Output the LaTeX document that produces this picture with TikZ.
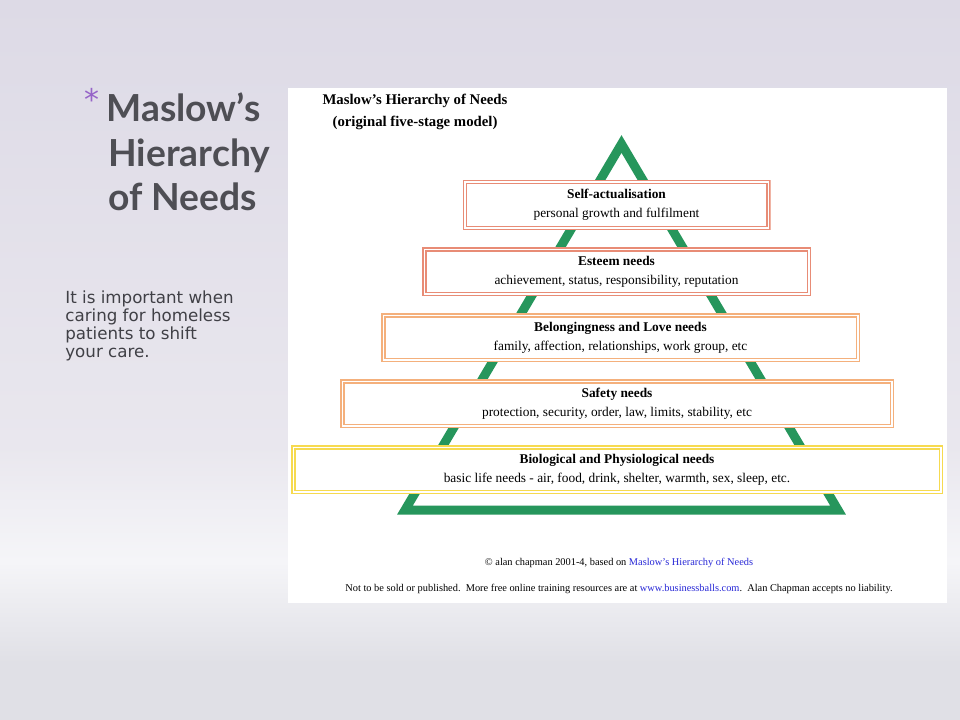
\documentclass[tikz,border=0pt]{standalone}
\usepackage{fontspec}
\setmainfont{Liberation Serif}
\newfontfamily\headfont{Lato}
\newfontfamily\slidefont{DejaVu Sans}
\usepackage{tikz}
\usetikzlibrary{positioning}
\definecolor{bgtop}{RGB}{221,218,230}
\definecolor{bgmid}{RGB}{233,231,238}
\definecolor{bglight}{RGB}{245,245,248}
\definecolor{bgbot}{RGB}{224,224,230}
\definecolor{headgray}{RGB}{78,78,84}
\definecolor{bodygray}{RGB}{64,64,70}
\definecolor{starpurple}{RGB}{150,100,200}
\definecolor{pyrgreen}{RGB}{38,150,92}
\definecolor{boxsalmon}{RGB}{232,140,118}
\definecolor{boxpeach}{RGB}{244,176,124}
\definecolor{boxbutter}{RGB}{246,218,80}
\definecolor{linkblue}{RGB}{40,40,215}
\pgfdeclareverticalshading{slidebg}{100bp}{color(0bp)=(bgbot); color(25bp)=(bgbot); color(29bp)=(bgbot); color(36bp)=(bglight); color(44bp)=(bgmid); color(75bp)=(bgtop); color(100bp)=(bgtop)}

\begin{document}
\begin{tikzpicture}[x=0.2mm,y=-0.2mm,
    needbox/.style n args={3}{fill=white, align=center, inner sep=0pt,
      minimum width=#2*0.2mm, minimum height=#3*0.2mm, font=\fontsize{7.6}{10.8}\selectfont,
      path picture={\draw[#1, line width=0.3mm]
        ([xshift=0.15mm,yshift=-0.15mm]path picture bounding box.north west) rectangle
        ([xshift=-0.15mm,yshift=0.15mm]path picture bounding box.south east)
        ([xshift=0.75mm,yshift=-0.75mm]path picture bounding box.north west) rectangle
        ([xshift=-0.75mm,yshift=0.75mm]path picture bounding box.south east);}},
    headline/.style={anchor=base west, text=headgray, inner sep=0pt,
      font=\headfont\bfseries\fontsize{21.2}{25}\selectfont}]
    \useasboundingbox (0,0) rectangle (960,720);
    \shade[shading=slidebg] (0,0) rectangle (960,720);
    % slide title and note
    \node[text=starpurple, inner sep=0pt, font=\slidefont\fontsize{17}{17}\selectfont] (star) at (92,99) {*};
    \node[headline] (head1) at (106,122) {Maslow’s};
    \node[headline] (head2) at (108,167) {Hierarchy};
    \node[headline] (head3) at (108,210) {of Needs};
    \node[anchor=base west, align=left, inner sep=0pt, text=bodygray,
      font=\slidefont\fontsize{9.5}{10.2}\selectfont] (note) at (65,357)
      {It is important when\\caring for homeless\\patients to shift\\your care.};
    % the picture on the right
    \fill[white] (288,88) rectangle (947,603);
    \node[align=center, font=\bfseries\fontsize{8.4}{12.4}\selectfont] (chart) at (415,112)
      {Maslow's Hierarchy of Needs\\(original five-stage model)};
    \coordinate (apex) at (621.5,144);
    \coordinate (baseL) at (405,510);
    \coordinate (baseR) at (838,510);
    \draw[pyrgreen, line width=1.8mm, line join=miter] (apex) -- (baseL) -- (baseR) -- cycle;
    \node[needbox={boxsalmon}{308}{50}] (self) at (616.5,205)
      {\textbf{Self-actualisation}\\personal growth and fulfilment};
    \node[needbox={boxsalmon}{389}{49}] (esteem) at (616.5,271.5)
      {\textbf{Esteem needs}\\achievement, status, responsibility, reputation};
    \node[needbox={boxpeach}{479}{49}] (love) at (620.5,337.5)
      {\textbf{Belongingness and Love needs}\\family, affection, relationships, work group, etc};
    \node[needbox={boxpeach}{554}{49}] (safety) at (617,403.5)
      {\textbf{Safety needs}\\protection, security, order, law, limits, stability, etc};
    \node[needbox={boxbutter}{652}{49}] (bio) at (617,469.5)
      {\textbf{Biological and Physiological needs}\\basic life needs - air, food, drink, shelter, warmth, sex, sleep, etc.};
    \node[font=\fontsize{5.9}{7}\selectfont] (credit) at (619,563)
      {© alan chapman 2001-4, based on \textcolor{linkblue}{Maslow's Hierarchy of Needs}};
    \node[font=\fontsize{5.9}{7}\selectfont, below=0.9mm of credit] (terms)
      {Not to be sold or published.\ \ More free online training resources are at \textcolor{linkblue}{www.businessballs.com}.\ \ Alan Chapman accepts no liability.};
\end{tikzpicture}
\end{document}
